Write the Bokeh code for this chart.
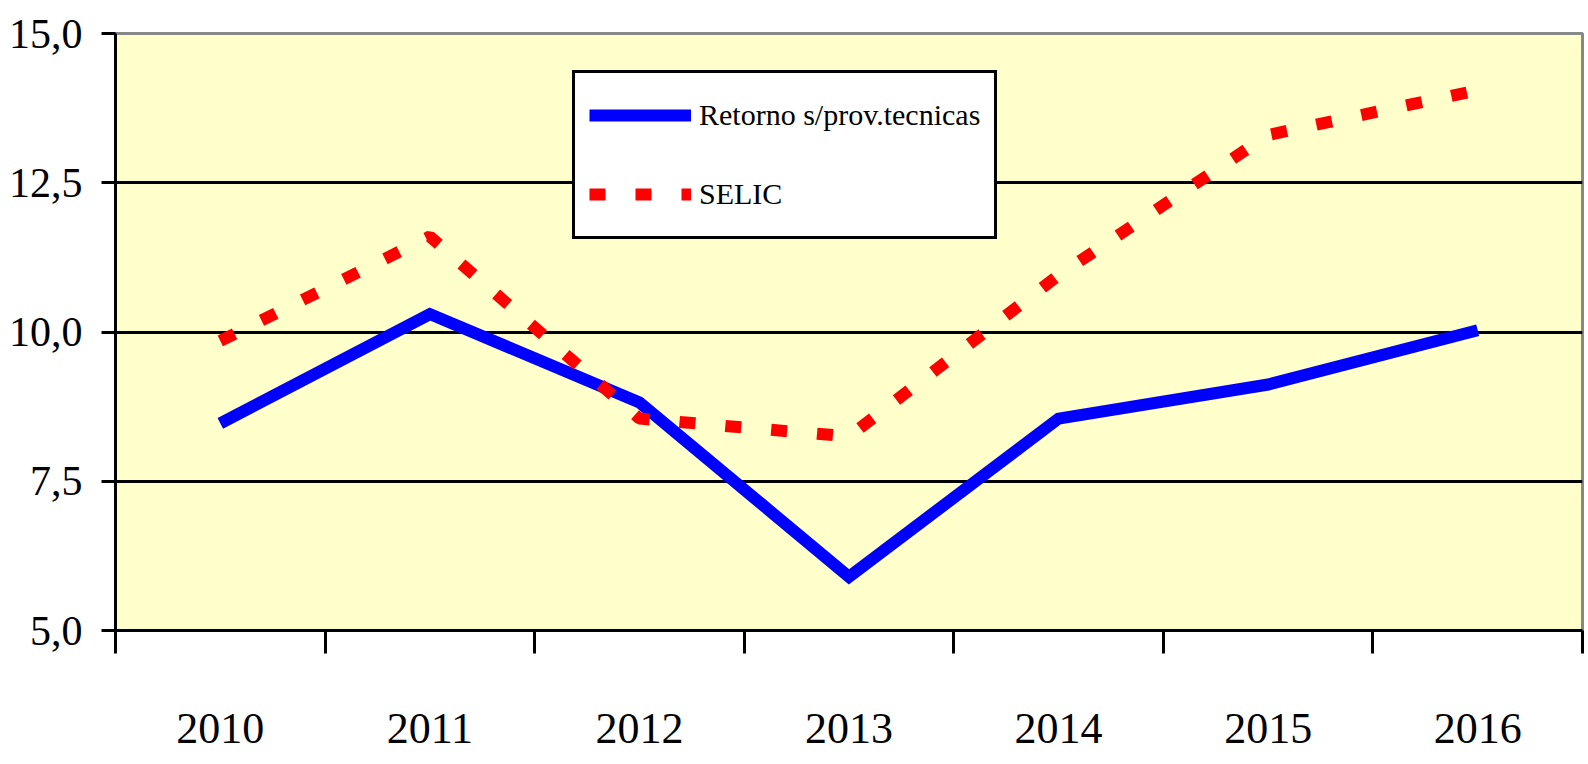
from bokeh.plotting import figure
from bokeh.models import Range1d, FixedTicker, Legend, LegendItem, ColumnDataSource
from bokeh.embed import file_html
from bokeh.resources import INLINE

# ---- data ----
years = ["2010", "2011", "2012", "2013", "2014", "2015", "2016"]
retorno = [8.47, 10.3, 8.82, 5.9, 8.55, 9.12, 10.03]
selic = [9.85, 11.6, 8.55, 8.25, 10.95, 13.3, 14.05]
y_ticks = [5.0, 7.5, 10.0, 12.5, 15.0]
y_tick_labels = ["5,0", "7,5", "10,0", "12,5", "15,0"]
series_names = ["Retorno s/prov.tecnicas", "SELIC"]

x_pos = [i + 0.5 for i in range(len(years))]
src = ColumnDataSource(dict(x=x_pos, retorno=retorno, selic=selic))

FONT = "Liberation Serif"

p = figure(width=1588, height=764, output_backend="svg", toolbar_location=None,
           x_range=Range1d(0, len(years)), y_range=Range1d(y_ticks[0], y_ticks[-1]),
           min_border_left=115, min_border_right=6, min_border_top=33, min_border_bottom=134)

p.background_fill_color = "#FFFFCC"
p.border_fill_color = "white"
p.outline_line_color = "#888888"
p.outline_line_width = 3

# grid
p.xgrid.visible = False
p.ygrid.ticker = FixedTicker(ticks=y_ticks[1:-1])
p.ygrid.grid_line_color = "black"
p.ygrid.grid_line_width = 3

# x axis: labels at centres, ticks at boundaries (minor ticks)
xa = p.xaxis[0]
xa.ticker = FixedTicker(ticks=x_pos, minor_ticks=list(range(len(years) + 1)))
xa.major_label_overrides = {x: y for x, y in zip(x_pos, years)}
xa.major_tick_out = 0
xa.major_tick_in = 0
xa.minor_tick_out = 23
xa.minor_tick_in = 0
xa.minor_tick_line_width = 3
xa.minor_tick_line_color = "black"
xa.axis_line_width = 3
xa.axis_line_color = "black"
xa.major_label_text_font = FONT
xa.major_label_text_font_size = "44px"
xa.major_label_text_color = "black"
xa.major_label_standoff = 60

ya = p.yaxis[0]
ya.ticker = FixedTicker(ticks=y_ticks)
ya.major_label_overrides = {t: l for t, l in zip(y_ticks, y_tick_labels)}
ya.major_tick_out = 14
ya.major_tick_in = 0
ya.major_tick_line_width = 3
ya.major_tick_line_color = "black"
ya.minor_tick_out = 0
ya.minor_tick_in = 0
ya.axis_line_width = 3
ya.axis_line_color = "black"
ya.major_label_text_font = FONT
ya.major_label_text_font_size = "42px"
ya.major_label_text_color = "black"
ya.major_label_standoff = 19

r_blue = p.line("x", "retorno", source=src, line_color="#0000FF", line_width=12,
                line_join="miter")
r_red = p.line("x", "selic", source=src, line_color="#FF0000", line_width=12,
               line_dash="16 30", line_cap="butt")

legend = Legend(items=[LegendItem(label=series_names[0], renderers=[r_blue]),
                       LegendItem(label=series_names[1], renderers=[r_red])],
                location=(457, 391))
legend.padding = 14
legend.margin = 0
legend.spacing = 23
legend.label_height = 56
legend.glyph_height = 56
legend.glyph_width = 102
legend.label_standoff = 8
legend.label_text_font = FONT
legend.label_text_font_size = "30px"
legend.label_text_color = "black"
legend.border_line_color = "black"
legend.border_line_alpha = 1.0
legend.border_line_width = 3
legend.background_fill_color = "white"
legend.background_fill_alpha = 1.0
p.add_layout(legend, "center")

open("out.html", "w").write(file_html(p, INLINE))
